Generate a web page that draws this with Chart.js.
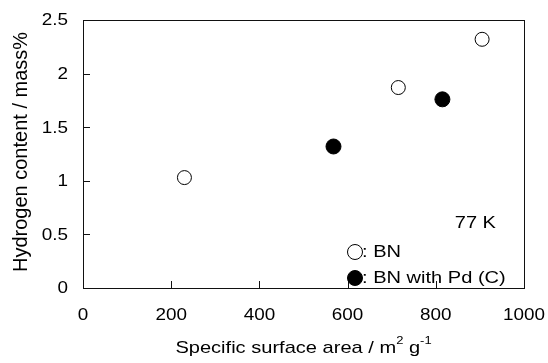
<!DOCTYPE html>
<html>
<head>
<meta charset="utf-8">
<script src="https://cdn.jsdelivr.net/npm/chart.js@4/dist/chart.umd.min.js"></script>
<style>
  html, body { margin: 0; padding: 0; background: #fff; }
  #contenedor { width: 548px; height: 363px; }
</style>
</head>
<body>
<div id="contenedor"><canvas id="myChart" width="548" height="363"></canvas></div>
<script>
// datos
var bnArea = [230, 715, 905];
var bnHidrogeno = [1.03, 1.87, 2.32];
var pdArea = [568, 815];
var pdHidrogeno = [1.32, 1.76];

var ticksX = [0, 200, 400, 600, 800, 1000];
var ticksY = [0, 0.5, 1, 1.5, 2, 2.5];

var tituloX = ['Specific surface area / m', '2', ' g', '-1'];
var tituloY = 'Hydrogen content / mass%';
var textoTemp = '77 K';
var leyenda = [': BN', ': BN with Pd (C)'];

var FUENTE = '"Liberation Sans", Arial, sans-serif';
var ESTIRA = 1.18; // el texto del original sale mas ancho

function puntos(xs, ys){
    var res = [];
    for(var i = 0; i < xs.length; i++){
        res.push({x: xs[i], y: ys[i]});
    }
    return res;
}

function texto(ctx, str, x, y, align, size){
    ctx.save();
    ctx.font = size + 'px ' + FUENTE;
    ctx.fillStyle = '#000';
    ctx.textBaseline = 'middle';
    ctx.textAlign = align;
    ctx.translate(x, y);
    ctx.scale(ESTIRA, 1);
    ctx.fillText(str, 0, 0);
    ctx.restore();
}

function ancho(ctx, str, size){
    ctx.save();
    ctx.font = size + 'px ' + FUENTE;
    var w = ctx.measureText(str).width * ESTIRA;
    ctx.restore();
    return w;
}

var dibujoEjes = {
    id: 'dibujoEjes',
    afterDatasetsDraw: function(chart){
        var ctx = chart.ctx;
        var area = chart.chartArea;
        var ejeX = chart.scales.x;
        var ejeY = chart.scales.y;

        // marco
        ctx.save();
        ctx.strokeStyle = '#111';
        ctx.lineWidth = 1;
        ctx.strokeRect(Math.round(area.left) + 0.5, Math.round(area.top) + 0.5,
            Math.round(area.right - area.left), Math.round(area.bottom - area.top));

        // marcas hacia dentro
        ctx.beginPath();
        for(var i in ticksY){
            var py = Math.round(ejeY.getPixelForValue(ticksY[i])) + 0.5;
            ctx.moveTo(area.left, py);
            ctx.lineTo(area.left + 7, py);
        }
        for(var j in ticksX){
            var px = Math.round(ejeX.getPixelForValue(ticksX[j])) + 0.5;
            ctx.moveTo(px, area.bottom);
            ctx.lineTo(px, area.bottom - 7);
        }
        ctx.stroke();
        ctx.restore();

        // etiquetas
        for(var k in ticksY){
            texto(ctx, String(ticksY[k]), area.left - 15, ejeY.getPixelForValue(ticksY[k]) + 1, 'right', 16);
        }
        for(var m in ticksX){
            texto(ctx, String(ticksX[m]), ejeX.getPixelForValue(ticksX[m]), area.bottom + 28, 'center', 16);
        }

        // titulo X con superindices
        var tam = [17, 11, 17, 11];
        var sube = [0, -7, 0, -7];
        var total = 0;
        for(var n = 0; n < tituloX.length; n++){
            total += ancho(ctx, tituloX[n], tam[n]);
        }
        var cx = (area.left + area.right) / 2 - total / 2;
        for(var n2 = 0; n2 < tituloX.length; n2++){
            texto(ctx, tituloX[n2], cx, 348 + sube[n2], 'left', tam[n2]);
            cx += ancho(ctx, tituloX[n2], tam[n2]);
        }

        // titulo Y
        ctx.save();
        ctx.translate(21, (area.top + area.bottom) / 2 - 2);
        ctx.rotate(-Math.PI / 2);
        ctx.font = '20px ' + FUENTE;
        ctx.fillStyle = '#000';
        ctx.textAlign = 'center';
        ctx.textBaseline = 'middle';
        ctx.fillText(tituloY, 0, 0);
        ctx.restore();

        // leyenda dentro del grafico
        texto(ctx, textoTemp, area.right - 28, 223, 'right', 17);
        var filas = [252, 278];
        var rellenos = ['#fff', '#000'];
        for(var f = 0; f < leyenda.length; f++){
            ctx.save();
            ctx.beginPath();
            ctx.arc(355, filas[f], 7.5, 0, Math.PI * 2);
            ctx.fillStyle = rellenos[f];
            ctx.fill();
            ctx.strokeStyle = '#000';
            ctx.lineWidth = 1;
            ctx.stroke();
            ctx.restore();
            texto(ctx, leyenda[f], 362, filas[f], 'left', 17);
        }
    }
};

var datosChart = {
    datasets: [{
        label: 'BN',
        data: puntos(bnArea, bnHidrogeno),
        pointRadius: 7,
        pointBackgroundColor: '#fff',
        pointBorderColor: '#000',
        pointBorderWidth: 1
    }, {
        label: 'BN with Pd (C)',
        data: puntos(pdArea, pdHidrogeno),
        pointRadius: 7.5,
        pointBackgroundColor: '#000',
        pointBorderColor: '#000',
        pointBorderWidth: 1
    }]
};

var grafico = new Chart(document.getElementById('myChart'), {
    type: 'scatter',
    data: datosChart,
    plugins: [dibujoEjes],
    options: {
        responsive: false,
        animation: false,
        layout: { padding: { top: 20, right: 24, left: 0, bottom: 0 } },
        plugins: {
            legend: { display: false },
            tooltip: { enabled: false }
        },
        scales: {
            x: {
                type: 'linear',
                min: 0,
                max: 1000,
                ticks: { display: false, stepSize: 200 },
                grid: { display: false },
                border: { display: false },
                afterFit: function(eje){ eje.height = 75; }
            },
            y: {
                type: 'linear',
                min: 0,
                max: 2.5,
                ticks: { display: false, stepSize: 0.5 },
                grid: { display: false },
                border: { display: false },
                afterFit: function(eje){ eje.width = 83; }
            }
        }
    }
});
</script>
</body>
</html>
